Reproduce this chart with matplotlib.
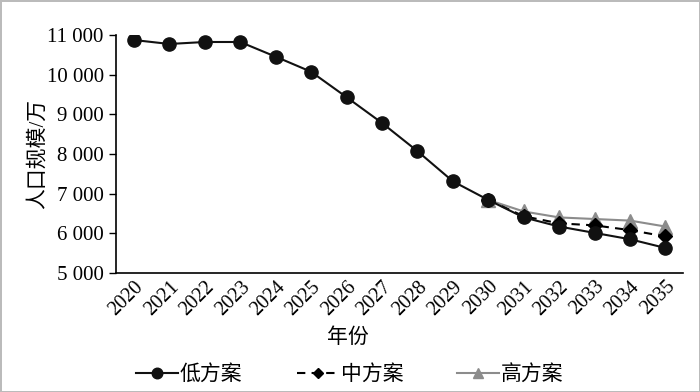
import matplotlib.pyplot as plt
import numpy as np

plt.rcParams['font.family'] = ['Liberation Serif', 'Noto Sans CJK SC']

years = [str(y) for y in range(2020, 2036)]
low = [10870, 10770, 10820, 10820, 10450, 10070, 9430, 8780, 8070, 7310,
       6840, 6400, 6170, 6010, 5850, 5630]
mid = [np.nan] * 10 + [6840, 6430, 6250, 6200, 6080, 5920]
high = [np.nan] * 10 + [6840, 6550, 6400, 6360, 6320, 6170]

fig = plt.figure(figsize=(7, 3.92), dpi=100)
fig.patch.set_edgecolor("#bbbbbb")
fig.patch.set_linewidth(2)
ax = fig.add_axes([0.166, 0.3036, 0.81, 0.6075])

x = np.arange(len(years))
ax.plot(x, high, color="#8c8c8c", lw=1.5, marker="^", ms=9.5,
        label="高方案", zorder=2)
ax.plot(x, mid, color="black", lw=1.5, ls=(0, (4, 3)), marker="D", ms=7,
        label="中方案", zorder=3)
ax.plot(x, low, color="#111111", lw=1.5, marker="o", ms=9.5,
        label="低方案", zorder=4)

ax.set_xlim(-0.5, len(years) - 0.5)
ax.set_ylim(5000, 11000)
ax.set_yticks(range(5000, 11001, 1000))
ax.set_yticklabels([f"{v // 1000} 000" for v in range(5000, 11001, 1000)],
                   fontsize=15)
ax.set_xticks(x)
ax.set_xticklabels(years, rotation=45, ha="right", va="top",
                   rotation_mode="anchor", fontsize=14.5)
ax.tick_params(axis="x", length=0, pad=3)
ax.tick_params(axis="y", direction="out", length=5, width=1, pad=4)

for s in ["top", "right"]:
    ax.spines[s].set_visible(False)
for s in ["left", "bottom"]:
    ax.spines[s].set_linewidth(1.2)

ax.set_ylabel("人口规模/万", fontsize=15)
ax.yaxis.set_label_coords(-0.12, 0.5)
fig.text(0.497, 0.138, "年份", ha="center", va="center", fontsize=15)

h, l = ax.get_legend_handles_labels()
fig.legend(h[::-1], l[::-1], loc="center", bbox_to_anchor=(0.5, 0.043),
           ncol=3, frameon=False, fontsize=15, handlelength=2.0,
           handletextpad=0.1, columnspacing=2.6, markerscale=0.8)

fig.savefig("out.png", dpi=100)
